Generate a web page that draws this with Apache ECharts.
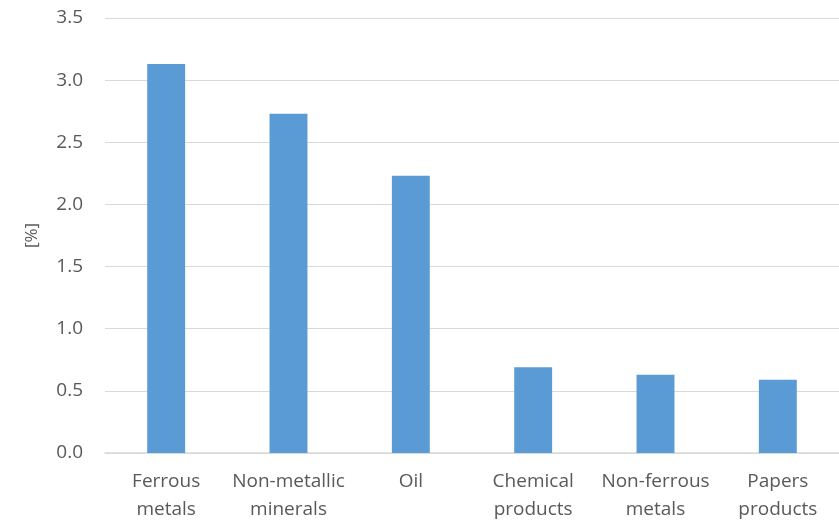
<!DOCTYPE html>
<html>
<head>
<meta charset="utf-8">
<script src="https://cdn.jsdelivr.net/npm/echarts@6/dist/echarts.min.js"></script>
<style>
  html, body { margin: 0; padding: 0; background: #ffffff; }
  #chart { width: 839px; height: 521px; }
</style>
</head>
<body>
<div id="chart"></div>
<script>
// Share of energy use by industrial sector
const categories = ['Ferrous\nmetals', 'Non-metallic\nminerals', 'Oil', 'Chemical\nproducts', 'Non-ferrous\nmetals', 'Papers\nproducts'];
const values = [3.13, 2.73, 2.23, 0.69, 0.63, 0.59];
const yTicks = { min: 0, max: 3.5, interval: 0.5 };

const textColor = '#595959';
const font = '"Open Sans", sans-serif';

const chart = echarts.init(document.getElementById('chart'));
chart.setOption({
  animation: false,
  grid: { left: 105, right: 0, top: 18, bottom: 68, outerBoundsMode: 'none' },
  xAxis: {
    type: 'category',
    data: categories,
    axisLine: { lineStyle: { color: '#d9d9d9', width: 1.5 } },
    axisTick: { show: false },
    axisLabel: {
      color: textColor, fontSize: 19, fontFamily: font,
      lineHeight: 28, margin: 15, interval: 0
    }
  },
  yAxis: {
    type: 'value',
    min: yTicks.min, max: yTicks.max, interval: yTicks.interval,
    name: '[%]',
    nameLocation: 'middle',
    nameGap: 64,
    nameRotate: 90,
    nameTextStyle: { color: textColor, fontSize: 17, fontFamily: font },
    axisLine: { show: false },
    axisTick: { show: false },
    splitLine: { lineStyle: { color: '#d9d9d9', width: 1 } },
    axisLabel: {
      color: textColor, fontSize: 19, fontFamily: font, margin: 22,
      formatter: v => v.toFixed(1)
    }
  },
  series: [{
    type: 'bar',
    data: values,
    barWidth: '31%',
    itemStyle: { color: '#5B9BD5' }
  }]
});
</script>
</body>
</html>
